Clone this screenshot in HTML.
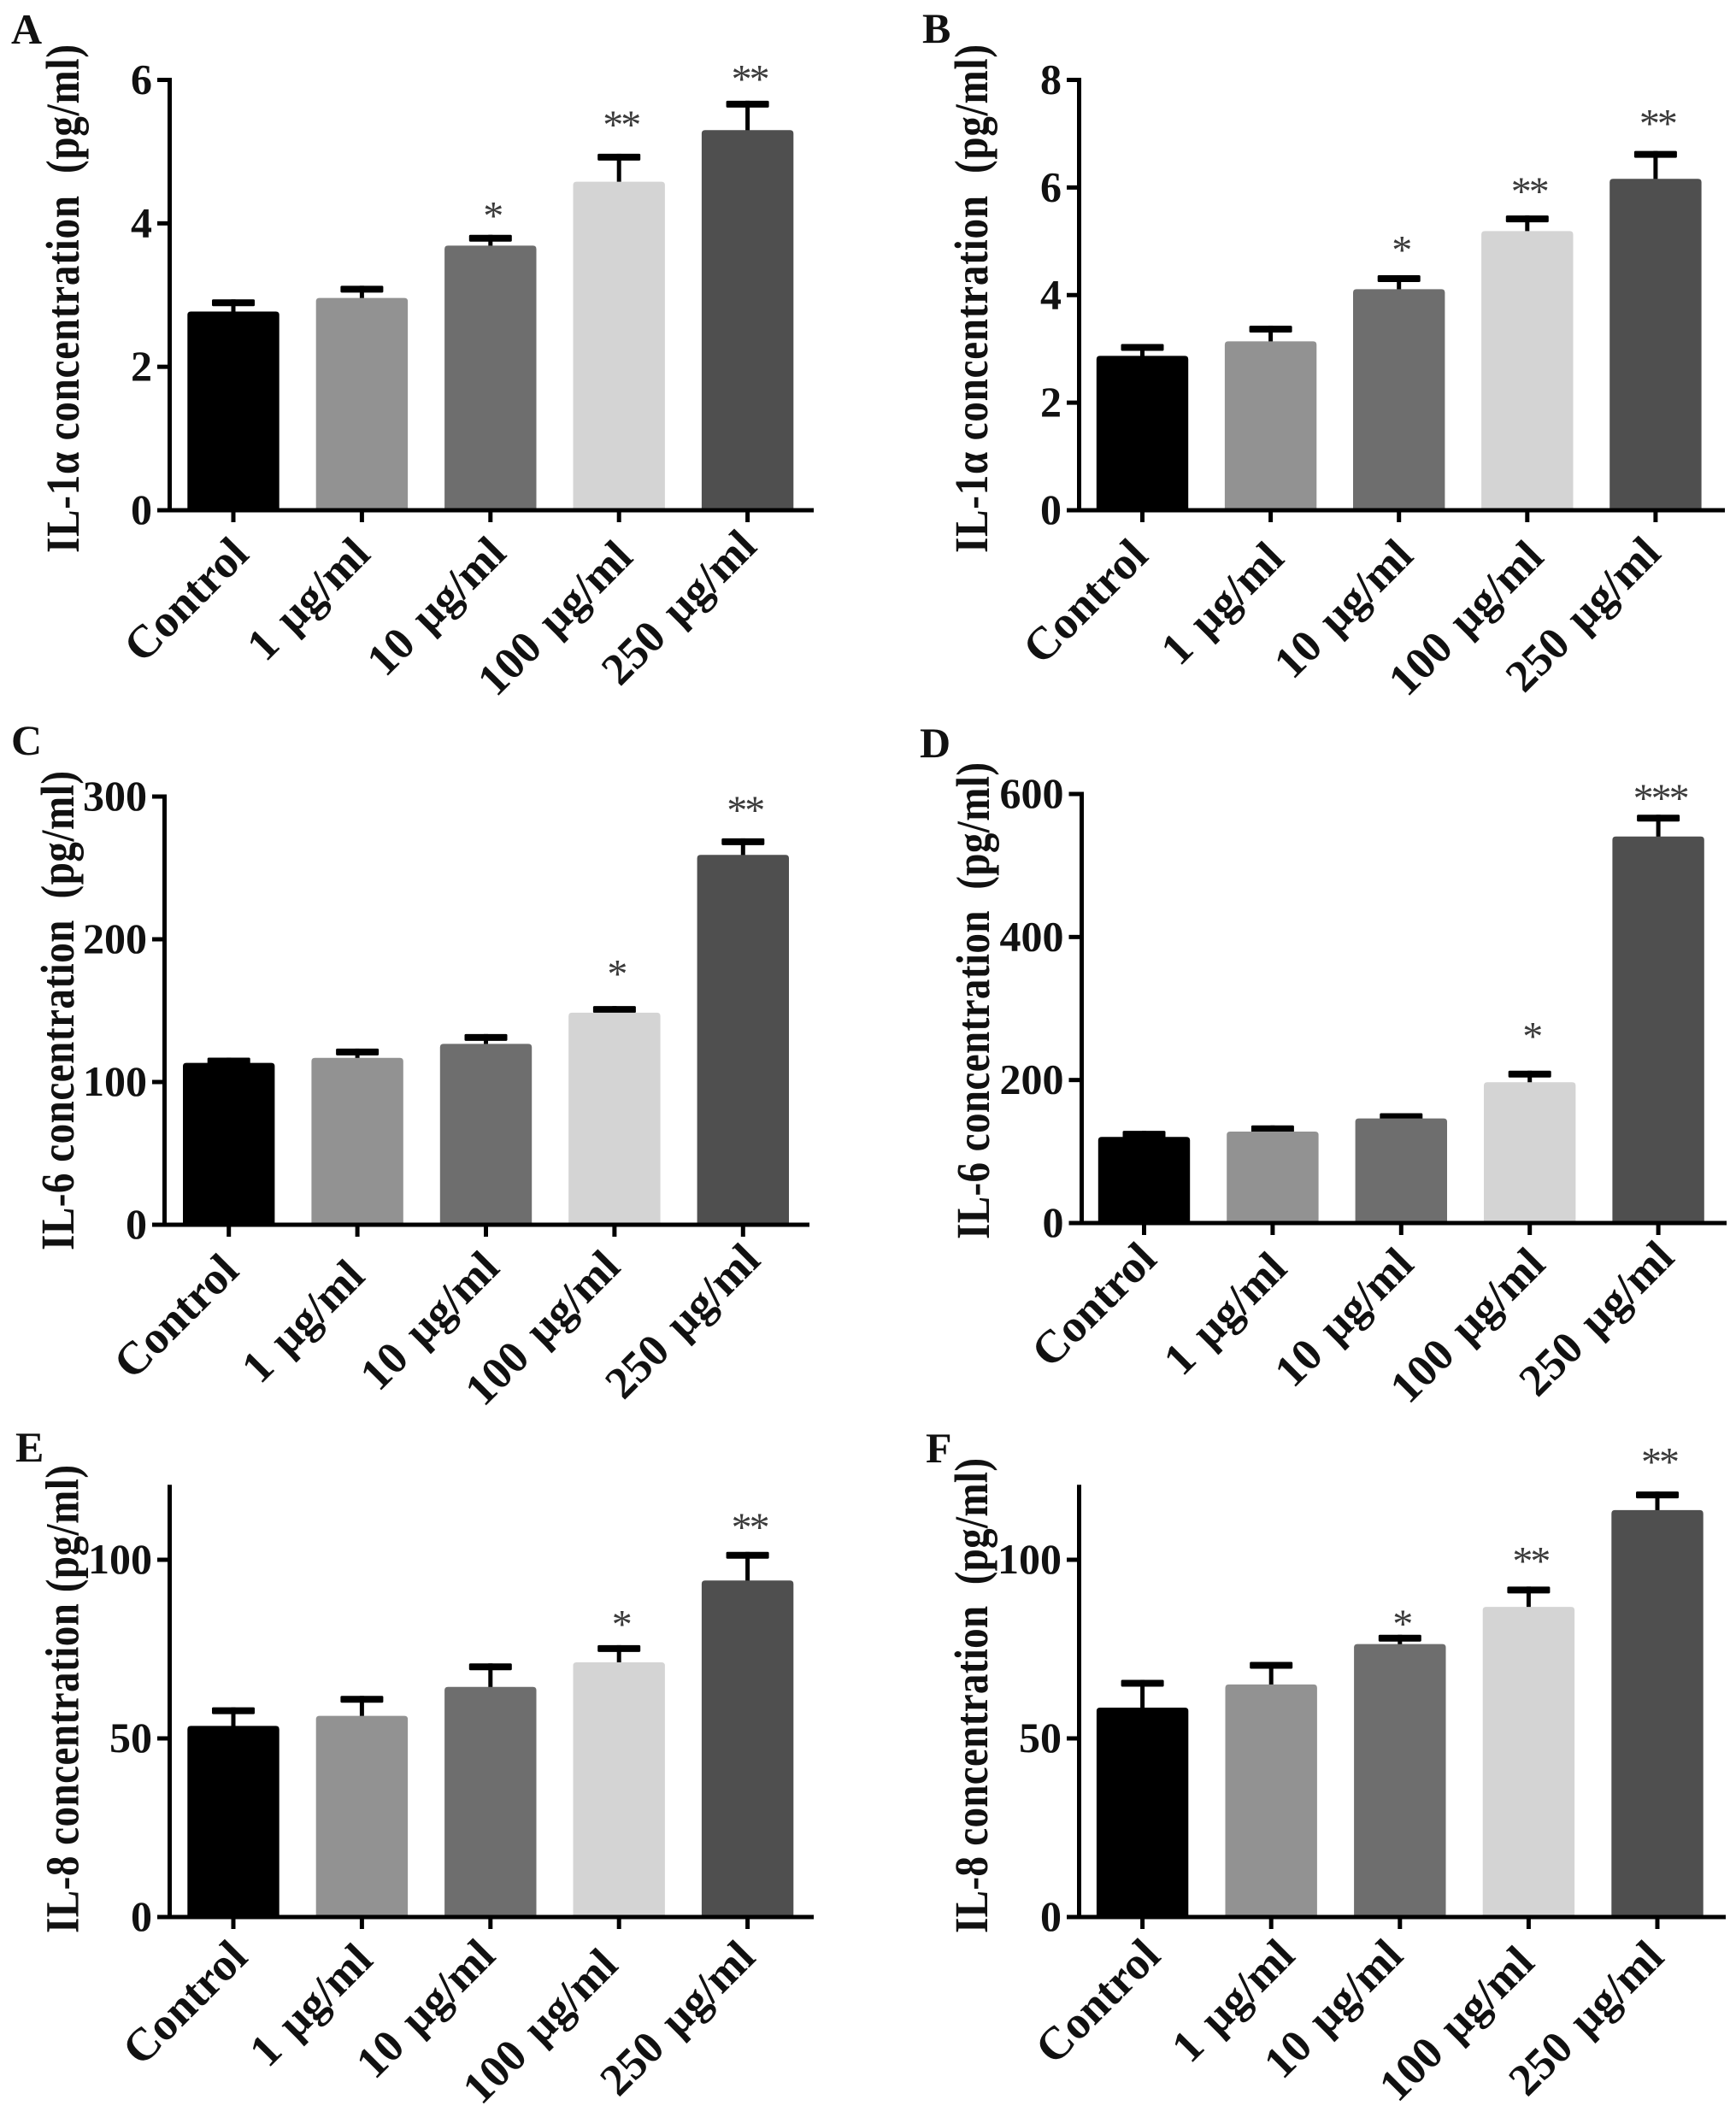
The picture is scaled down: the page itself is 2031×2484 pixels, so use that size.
<!DOCTYPE html>
<html lang="en">
<head>
<meta charset="utf-8">
<title>Cytokine concentration bar charts</title>
<style>
html,body{margin:0;padding:0;background:#fff;}
svg{display:block;}
text{font-family:"Liberation Serif","DejaVu Serif",serif;white-space:pre;}
</style>
</head>
<body>
<svg id="figure" xmlns="http://www.w3.org/2000/svg" width="2031" height="2484" viewBox="0 0 2031 2484"></svg>
<script>
const categories = ["Control", "1 µg/ml", "10 µg/ml", "100 µg/ml", "250 µg/ml"];

const panelAValues = [2.77, 2.96, 3.69, 4.58, 5.30];
const panelAErrorTops = [2.94, 3.13, 3.84, 4.97, 5.71];
const panelAStars = ["", "", "*", "**", "**"];
const panelAStarLift = [0, 0, 0.37, 0.51, 0.41];
const panelATicks = [0, 2, 4, 6];

const panelBValues = [2.87, 3.14, 4.11, 5.19, 6.16];
const panelBErrorTops = [3.09, 3.43, 4.37, 5.48, 6.68];
const panelBStars = ["", "", "*", "**", "**"];
const panelBStarLift = [0, 0, 0.61, 0.59, 0.65];
const panelBTicks = [0, 2, 4, 6, 8];

const panelCValues = [113.4, 116.9, 126.7, 148.6, 259.1];
const panelCErrorTops = [117.1, 123.4, 133.6, 153.2, 270.7];
const panelCStars = ["", "", "", "*", "**"];
const panelCStarLift = [0, 0, 0, 28, 25];
const panelCTicks = [0, 100, 200, 300];

const panelDValues = [120.4, 127.9, 146.3, 196.9, 540.6];
const panelDErrorTops = [129, 136.5, 153.6, 213, 571];
const panelDStars = ["", "", "", "*", "***"];
const panelDStarLift = [0, 0, 0, 59, 34];
const panelDTicks = [0, 200, 400, 600];

const panelEValues = [53.5, 56.3, 64.4, 71.3, 94.2];
const panelEErrorTops = [58.7, 61.9, 71, 76.1, 102.2];
const panelEStars = ["", "", "", "*", "**"];
const panelEStarLift = [0, 0, 0, 8, 9];
const panelETicks = [0, 50, 100];

const panelFValues = [58.6, 65.1, 76.4, 86.8, 113.9];
const panelFErrorTops = [66.4, 71.4, 79, 92.5, 119.1];
const panelFStars = ["", "", "*", "**", "**"];
const panelFStarLift = [0, 0, 5.2, 9.3, 10.5];
const panelFTicks = [0, 50, 100];

const barFills = ["#000000", "#929292", "#6e6e6e", "#d4d4d4", "#4f4f4f"];

const panels = [
  {id:"a", letter:"A", lx:13, ly:51, values:panelAValues, errs:panelAErrorTops, stars:panelAStars, lift:panelAStarLift, ticks:panelATicks,
   max:6, axisTopValue:6, y0:597, yRef:93.5, x0:273, step:150.4, axisX:198.5, xStart:184, xEnd:952,
   title:"IL-1α concentration  (pg/ml)", tx:92, tBottom:647, tTop:52,
   layoutDx:[-1.6,-10,-1.4,-3.6,-9], layoutDy:[6,6,5,9.5,-3]},
  {id:"b", letter:"B", lx:1079, ly:50, values:panelBValues, errs:panelBErrorTops, stars:panelBStars, lift:panelBStarLift, ticks:panelBTicks,
   max:8, axisTopValue:8, y0:597, yRef:93.5, x0:1336.5, step:150.1, axisX:1262.5, xStart:1248, xEnd:2018,
   title:"IL-1α concentration  (pg/ml)", tx:1155, tBottom:647, tTop:52,
   layoutDx:[-13,-4,-3,-0.5,-13.6], layoutDy:[8,11,8,9.5,5]},
  {id:"c", letter:"C", lx:13, ly:883, values:panelCValues, errs:panelCErrorTops, stars:panelCStars, lift:panelCStarLift, ticks:panelCTicks,
   max:300, axisTopValue:300, y0:1433, yRef:932, x0:267.7, step:150.4, axisX:192.5, xStart:178, xEnd:947,
   title:"IL-6 concentration  (pg/ml)", tx:86, tBottom:1463, tTop:902,
   layoutDx:[-8,-11,-4,-13,0.5], layoutDy:[8.5,15,5,4,-4]},
  {id:"d", letter:"D", lx:1076, ly:886, values:panelDValues, errs:panelDErrorTops, stars:panelDStars, lift:panelDStarLift, ticks:panelDTicks,
   max:600, axisTopValue:600, y0:1431, yRef:929, x0:1338.5, step:150.4, axisX:1265.5, xStart:1250.5, xEnd:2020,
   title:"IL-6 concentration  (pg/ml)", tx:1157, tBottom:1450, tTop:892,
   layoutDx:[-5,-3,-5,-1.5,-1], layoutDy:[-3,8,3,3,-5]},
  {id:"e", letter:"E", lx:18, ly:1710, values:panelEValues, errs:panelEErrorTops, stars:panelEStars, lift:panelEStarLift, ticks:panelETicks,
   max:100, axisTopValue:120.4, y0:2243, yRef:1825, x0:273, step:150.4, axisX:198.5, xStart:184, xEnd:952,
   title:"IL-8 concentration (pg/ml)", tx:91.5, tBottom:2262, tTop:1714,
   layoutDx:[-3,-7,-14,-21,-10.7], layoutDy:[1.6,5,0,11,1.6]},
  {id:"f", letter:"F", lx:1083, ly:1711, values:panelFValues, errs:panelFErrorTops, stars:panelFStars, lift:panelFStarLift, ticks:panelFTicks,
   max:100, axisTopValue:120.4, y0:2243, yRef:1825, x0:1336.6, step:150.6, axisX:1262.5, xStart:1248, xEnd:2019,
   title:"IL-8 concentration  (pg/ml)", tx:1155, tBottom:2262, tTop:1706,
   layoutDx:[1.4,8,-16,-13,-12], layoutDy:[0,0,0,8,1.6]}
];

const svgNS = "http://www.w3.org/2000/svg";
const root = document.getElementById("figure");

function make(parent, tag, attrs, content) {
  const el = document.createElementNS(svgNS, tag);
  for (const k in attrs) el.setAttribute(k, attrs[k]);
  if (content !== undefined) el.textContent = content;
  parent.appendChild(el);
  return el;
}
function slug(s) {
  return s.toLowerCase().replace(/µ/g, "u").replace(/[^a-z0-9]+/g, "-");
}

panels.forEach(function (p) {
  const yScale = function (v) { return p.y0 - (v / p.max) * (p.y0 - p.yRef); };
  const xScale = function (i) { return p.x0 + i * p.step; };

  const g = make(root, "g", {});
  
  

  const letter = make(g, "text", {x:p.lx, y:p.ly, "font-size":50, "font-weight":"bold", fill:"#111"}, p.letter);
  
  

  const title = make(g, "text", {
    transform:"translate(" + p.tx + "," + p.tBottom + ") rotate(-90) scale(1,1.17)",
    "font-size":47, "font-weight":"bold", fill:"#111",
    textLength:(p.tBottom - p.tTop), lengthAdjust:"spacing"
  }, p.title);
  
  

  categories.forEach(function (cat, i) {
    const cx = xScale(i);
    const top = yScale(p.values[i]);
    const errY = yScale(p.errs[i]);
    const half = 53.7;

    const stem = make(g, "line", {x1:cx, x2:cx, y1:errY, y2:top + 4, stroke:"#000", "stroke-width":5});
    
    

    const cap = make(g, "rect", {x:cx - 25, y:errY, width:50, height:8, rx:1.5, fill:"#000"});
    
    

    const bar = make(g, "path", {
      d:"M" + (cx - half) + " " + p.y0 + "V" + (top + 4) + "Q" + (cx - half) + " " + top + " " + (cx - half + 4) + " " + top +
        "H" + (cx + half - 4) + "Q" + (cx + half) + " " + top + " " + (cx + half) + " " + (top + 4) + "V" + p.y0 + "Z",
      fill:barFills[i]
    });
    
    

    if (p.stars[i]) {
      const star = make(g, "text", {
        x:cx + 2, y:yScale(p.errs[i] + p.lift[i]) + 25, "font-size":48, fill:"#3a3a3a", "text-anchor":"middle", "letter-spacing":"-3px"
      }, p.stars[i]);
      
      
    }

    const xTick = make(g, "line", {x1:cx, x2:cx, y1:p.y0, y2:p.y0 + 14, stroke:"#000", "stroke-width":5});
    
    

    const lab = make(g, "text", {
      transform:"translate(" + (cx + 22 + p.layoutDx[i]) + "," + (p.y0 + 48 + p.layoutDy[i]) + ") rotate(-45)",
      "font-size":(i === 0 ? 54 : 53), "font-weight":"bold", "text-anchor":"end", fill:"#111", "word-spacing":"6px"
    }, cat);
    
    
  });

  p.ticks.forEach(function (t) {
    const y = yScale(t);
    const tick = make(g, "line", {x1:p.xStart, x2:p.axisX, y1:y, y2:y, stroke:"#000", "stroke-width":5});
    
    

    const lab = make(g, "text", {
      x:p.xStart - 6, y:y + 16, "font-size":50, "font-weight":"bold", "text-anchor":"end", fill:"#111"
    }, String(t));
    
    
  });

  const yAxis = make(g, "line", {x1:p.axisX, x2:p.axisX, y1:yScale(p.axisTopValue) - 2.5, y2:p.y0 + 2.5, stroke:"#000", "stroke-width":5});
  
  

  const xAxis = make(g, "line", {x1:p.xStart, x2:p.xEnd, y1:p.y0, y2:p.y0, stroke:"#000", "stroke-width":5});
  
  
});
</script>
</body>
</html>
